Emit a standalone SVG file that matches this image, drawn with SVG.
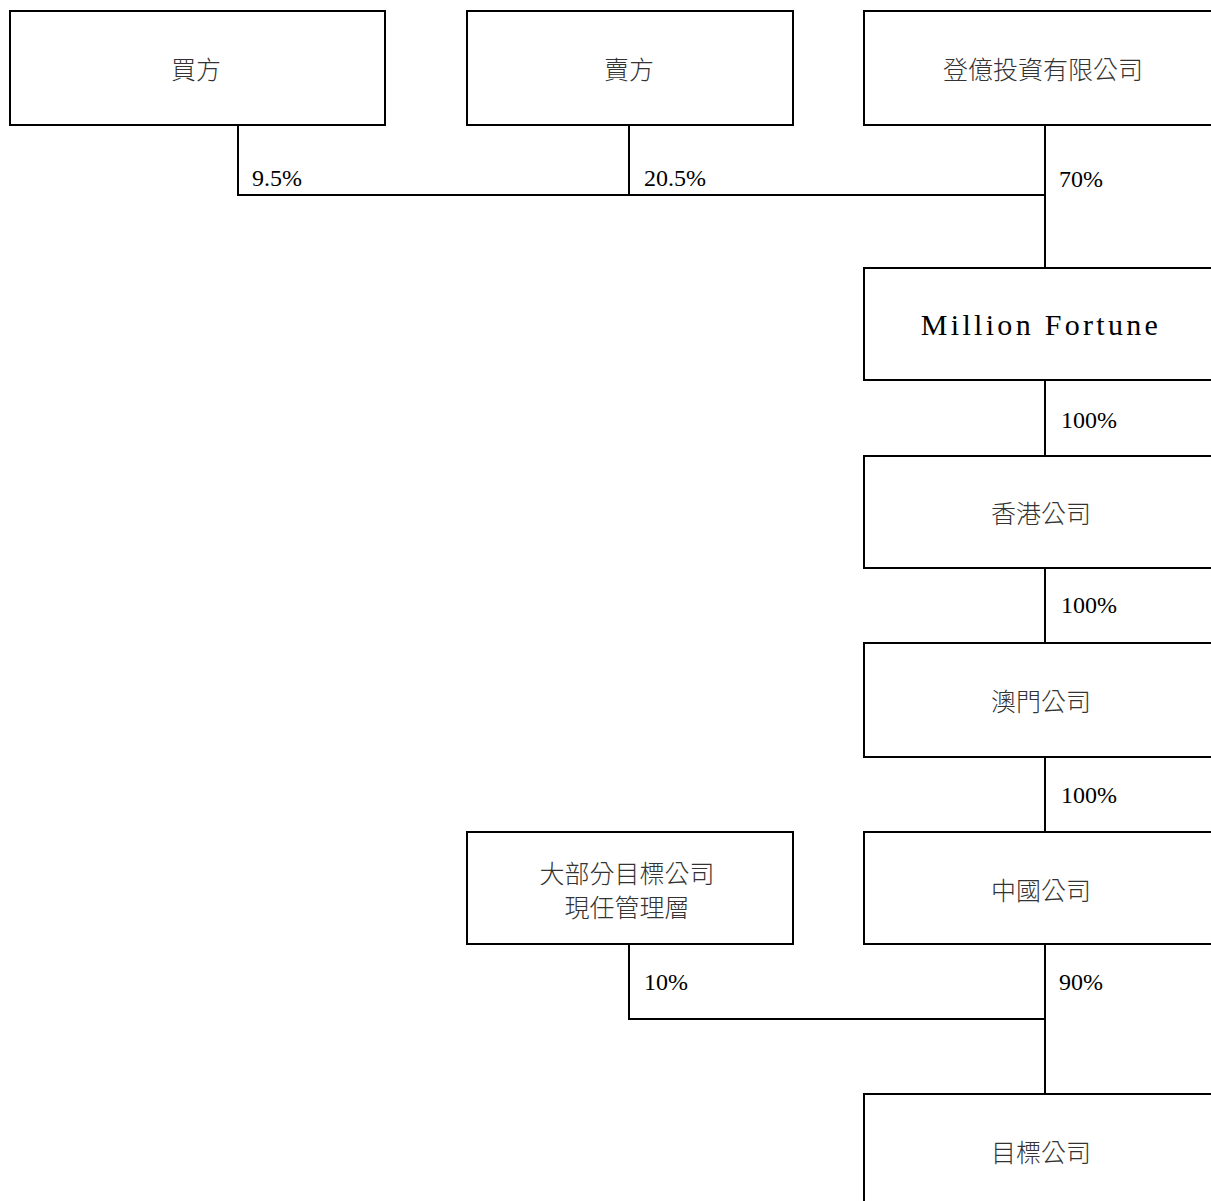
<svg xmlns="http://www.w3.org/2000/svg" width="1211" height="1201" viewBox="0 0 1211 1201">
<style>
.box{fill:#fff;stroke:#000;stroke-width:2}
.ln{fill:none;stroke:#000;stroke-width:2}
.cjk{font-family:"Noto Sans CJK TC","Noto Sans CJK SC",sans-serif;font-size:25px;font-weight:300;fill:#333;text-anchor:middle;dominant-baseline:central}
.pct{font-family:"Liberation Serif","Times New Roman",serif;font-size:24px;fill:#000}
.en{font-family:"Liberation Serif","Times New Roman",serif;font-size:30px;letter-spacing:3.3px;fill:#000;text-anchor:middle}
</style>
<rect width="1211" height="1201" fill="#fff"/>
<g id="connectors">
<polyline class="ln" points="238,125 238,195 1045,195"/>
<line class="ln" x1="629" y1="125" x2="629" y2="195"/>
<line class="ln" x1="1045" y1="125" x2="1045" y2="268"/>
<line class="ln" x1="1045" y1="380" x2="1045" y2="456"/>
<line class="ln" x1="1045" y1="568" x2="1045" y2="643"/>
<line class="ln" x1="1045" y1="757" x2="1045" y2="832"/>
<polyline class="ln" points="629,944 629,1019 1045,1019"/>
<line class="ln" x1="1045" y1="944" x2="1045" y2="1094"/>
<text class="pct" x="252" y="186">9.5%</text>
<text class="pct" x="644" y="186">20.5%</text>
<text class="pct" x="1059" y="187">70%</text>
<text class="pct" x="1061" y="428">100%</text>
<text class="pct" x="1061" y="613">100%</text>
<text class="pct" x="1061" y="803">100%</text>
<text class="pct" x="644" y="990">10%</text>
<text class="pct" x="1059" y="990">90%</text>
</g>
<g id="buyer"><rect class="box" x="10" y="11" width="375" height="114"/><text class="cjk" x="196" y="68">買方</text></g>
<g id="seller"><rect class="box" x="467" y="11" width="326" height="114"/><text class="cjk" x="629" y="68">賣方</text></g>
<g id="dengyi"><rect class="box" x="864" y="11" width="362" height="114"/><text class="cjk" x="1043" y="68">登億投資有限公司</text></g>
<g id="million"><rect class="box" x="864" y="268" width="362" height="112"/><text class="en" x="1041" y="335">Million Fortune</text></g>
<g id="hk"><rect class="box" x="864" y="456" width="362" height="112"/><text class="cjk" x="1041" y="512">香港公司</text></g>
<g id="macau"><rect class="box" x="864" y="643" width="362" height="114"/><text class="cjk" x="1041" y="700">澳門公司</text></g>
<g id="mgmt"><rect class="box" x="467" y="832" width="326" height="112"/><text class="cjk" x="627" y="872">大部分目標公司</text><text class="cjk" x="627" y="906">現任管理層</text></g>
<g id="china"><rect class="box" x="864" y="832" width="362" height="112"/><text class="cjk" x="1041" y="889">中國公司</text></g>
<g id="target"><rect class="box" x="864" y="1094" width="362" height="120"/><text class="cjk" x="1041" y="1151">目標公司</text></g>
</svg>
